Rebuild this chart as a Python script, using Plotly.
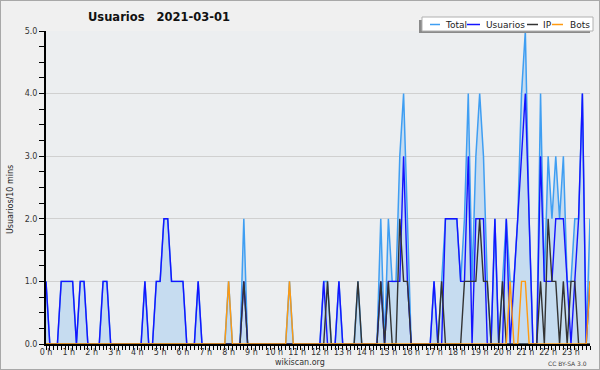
import plotly.graph_objects as go

# ---------------- data (10-minute slots, 2021-03-01) ----------------
slot_hours = [i / 6 for i in range(144)]

usuarios = [
    1, 0, 0, 0, 1, 1, 1, 1, 0, 1, 1, 0,
    0, 0, 0, 1, 1, 0, 0, 0, 0, 0, 0, 0,
    0, 0, 1, 0, 0, 1, 1, 2, 2, 1, 1, 1,
    1, 0, 0, 0, 1, 0, 0, 0, 0, 0, 0, 0,
    0, 0, 0, 0, 1, 0, 0, 0, 0, 0, 0, 0,
    0, 0, 0, 0, 0, 0, 0, 0, 0, 0, 0, 0,
    0, 1, 0, 0, 0, 1, 0, 0, 0, 0, 0, 0,
    0, 0, 0, 0, 1, 0, 1, 1, 1, 1, 3, 1,
    0, 0, 0, 0, 0, 0, 1, 0, 0, 2, 2, 2,
    2, 1, 1, 3, 0, 2, 2, 2, 0, 0, 2, 0,
    0, 2, 0, 1, 2, 3, 4, 2, 0, 0, 3, 1,
    1, 1, 2, 2, 2, 1, 0, 1, 2, 4, 0, 1,
]

ip = [
    0, 0, 0, 0, 0, 0, 0, 0, 0, 0, 0, 0,
    0, 0, 0, 0, 0, 0, 0, 0, 0, 0, 0, 0,
    0, 0, 0, 0, 0, 0, 0, 0, 0, 0, 0, 0,
    0, 0, 0, 0, 0, 0, 0, 0, 0, 0, 0, 0,
    0, 0, 0, 0, 1, 0, 0, 0, 0, 0, 0, 0,
    0, 0, 0, 0, 0, 0, 0, 0, 0, 0, 0, 0,
    0, 0, 1, 0, 0, 0, 0, 0, 0, 0, 1, 0,
    0, 0, 0, 0, 1, 0, 1, 0, 0, 2, 1, 1,
    0, 0, 0, 0, 0, 0, 0, 0, 1, 0, 0, 0,
    0, 0, 1, 1, 1, 1, 2, 1, 1, 0, 0, 0,
    1, 0, 0, 0, 0, 0, 0, 0, 0, 0, 1, 0,
    2, 1, 1, 0, 1, 0, 1, 1, 0, 0, 0, 0,
]

bots = [
    0, 0, 0, 0, 0, 0, 0, 0, 0, 0, 0, 0,
    0, 0, 0, 0, 0, 0, 0, 0, 0, 0, 0, 0,
    0, 0, 0, 0, 0, 0, 0, 0, 0, 0, 0, 0,
    0, 0, 0, 0, 0, 0, 0, 0, 0, 0, 0, 0,
    1, 0, 0, 0, 0, 0, 0, 0, 0, 0, 0, 0,
    0, 0, 0, 0, 1, 0, 0, 0, 0, 0, 0, 0,
    0, 0, 0, 0, 0, 0, 0, 0, 0, 0, 0, 0,
    0, 0, 0, 0, 0, 0, 0, 0, 0, 0, 0, 0,
    0, 0, 0, 0, 0, 0, 0, 0, 0, 0, 0, 0,
    0, 0, 0, 0, 0, 0, 0, 0, 0, 0, 0, 0,
    0, 0, 1, 0, 0, 1, 1, 0, 0, 0, 0, 0,
    0, 0, 0, 0, 0, 0, 0, 0, 0, 0, 0, 1,
]

total = [
    1, 0, 0, 0, 1, 1, 1, 1, 0, 1, 1, 0,
    0, 0, 0, 1, 1, 0, 0, 0, 0, 0, 0, 0,
    0, 0, 1, 0, 0, 1, 1, 2, 2, 1, 1, 1,
    1, 0, 0, 0, 1, 0, 0, 0, 0, 0, 0, 0,
    1, 0, 0, 0, 2, 0, 0, 0, 0, 0, 0, 0,
    0, 0, 0, 0, 1, 0, 0, 0, 0, 0, 0, 0,
    0, 1, 1, 0, 0, 1, 0, 0, 0, 0, 1, 0,
    0, 0, 0, 0, 2, 0, 2, 1, 1, 3, 4, 2,
    0, 0, 0, 0, 0, 0, 1, 0, 1, 2, 2, 2,
    2, 1, 2, 4, 1, 3, 4, 3, 1, 0, 2, 0,
    1, 2, 1, 1, 2, 4, 5, 2, 0, 0, 4, 1,
    3, 2, 3, 2, 3, 1, 1, 2, 2, 4, 0, 2,
]

series_names = ["Total", "Usuarios", "IP", "Bots"]
title_text = "Usuarios\u00a0\u00a0 2021-03-01"
y_title = "Usuarios/10 mins"

# ---------------- styles ----------------
C_TOTAL = "#3f9ef2"
C_FILL = "#c6dcf0"
C_USU = "#1414ff"
C_IP = "#333333"
C_BOTS = "#ff9a10"
colors = [C_TOTAL, C_USU, C_IP, C_BOTS]
FONT = "DejaVu Sans"

W, H = 600, 370
ML, MR, MT, MB = 46, 10, 31, 26
PW, PH = W - ML - MR, H - MT - MB


def px(x):
    return (x - ML) / PW


def py(y):
    return (H - MB - y) / PH


fig = go.Figure()
fig.add_trace(go.Scatter(x=slot_hours, y=total, mode="lines", name=series_names[0],
                         line=dict(color=C_TOTAL, width=1.5),
                         fill="tozeroy", fillcolor=C_FILL))
for name, vals, col in zip(series_names[1:], [usuarios, ip, bots], colors[1:]):
    fig.add_trace(go.Scatter(x=slot_hours, y=vals, mode="lines", name=name,
                             line=dict(color=col, width=1.4)))

shapes = []
# outer frame
shapes.append(dict(type="rect", xref="paper", yref="paper",
                   x0=px(0), x1=px(W), y0=py(H), y1=py(0),
                   line=dict(color="#a8a8a8", width=2), fillcolor="rgba(0,0,0,0)", layer="above"))
# legend shadow and box
shapes.append(dict(type="rect", xref="paper", yref="paper",
                   x0=px(419), x1=px(590), y0=py(33), y1=py(20),
                   line=dict(width=0), fillcolor="#8a8a8a", layer="above"))
shapes.append(dict(type="rect", xref="paper", yref="paper",
                   x0=px(422), x1=px(593), y0=py(31), y1=py(17),
                   line=dict(color="#b0b0b0", width=1), fillcolor="#ffffff", layer="above"))

annotations = []
leg_line_x = [(430, 440), (467, 480), (527, 538), (552, 563)]
leg_text_x = [443, 484, 541, 568]
for name, col, (a, b), tx in zip(series_names, colors, leg_line_x, leg_text_x):
    shapes.append(dict(type="line", xref="paper", yref="paper",
                       x0=px(a), x1=px(b), y0=py(24.5), y1=py(24.5),
                       line=dict(color=col, width=1.5), layer="above"))
    annotations.append(dict(text=name, xref="paper", yref="paper", x=px(tx), y=py(24.5),
                            xanchor="left", yanchor="middle", showarrow=False,
                            font=dict(family=FONT, size=9, color="#222222")))

annotations.append(dict(text="<b>" + title_text + "</b>", xref="paper", yref="paper",
                        x=px(86), y=py(17), xanchor="left", yanchor="middle", showarrow=False,
                        font=dict(family=FONT, size=11.5, color="#111111")))
annotations.append(dict(text=y_title, xref="paper", yref="paper", x=px(10), y=py(200),
                        xanchor="center", yanchor="middle", textangle=-90, showarrow=False,
                        font=dict(family=FONT, size=8, color="#222222")))
annotations.append(dict(text="wikiscan.org", xref="paper", yref="paper", x=px(300), y=py(362),
                        xanchor="center", yanchor="middle", showarrow=False,
                        font=dict(family=FONT, size=8, color="#333333")))
annotations.append(dict(text="CC BY-SA 3.0", xref="paper", yref="paper", x=px(589), y=py(363),
                        xanchor="right", yanchor="middle", showarrow=False,
                        font=dict(family=FONT, size=6, color="#444444")))

fig.update_layout(
    width=W, height=H,
    margin=dict(l=ML, r=MR, t=MT, b=MB, pad=0),
    paper_bgcolor="#f0f0f0", plot_bgcolor="#eceef0",
    showlegend=False,
    shapes=shapes, annotations=annotations,
    xaxis=dict(range=[0, 143 / 6], tickmode="linear", tick0=0, dtick=1, ticksuffix=" h",
               ticks="outside", ticklen=4, tickwidth=1, tickcolor="#000000",
               showline=True, linecolor="#000000", linewidth=2, showgrid=False, zeroline=False,
               tickfont=dict(family=FONT, size=8, color="#333333"), ticklabelstandoff=-5,
               minor=dict(tick0=0, dtick=1 / 6, ticks="outside", ticklen=4, tickwidth=1,
                          tickcolor="#000000", showgrid=False)),
    yaxis=dict(range=[0, 5], tickmode="linear", tick0=0, dtick=1, tickformat=".1f",
               ticks="outside", ticklen=5, tickwidth=1, tickcolor="#000000",
               showline=True, linecolor="#000000", linewidth=2,
               showgrid=True, gridcolor="#d0d0d0", gridwidth=1, zeroline=False,
               tickfont=dict(family=FONT, size=8, color="#333333"),
               minor=dict(tick0=0, dtick=0.25, ticks="outside", ticklen=5, tickwidth=1,
                          tickcolor="#000000", showgrid=False)),
)

fig.write_html("out.html")
